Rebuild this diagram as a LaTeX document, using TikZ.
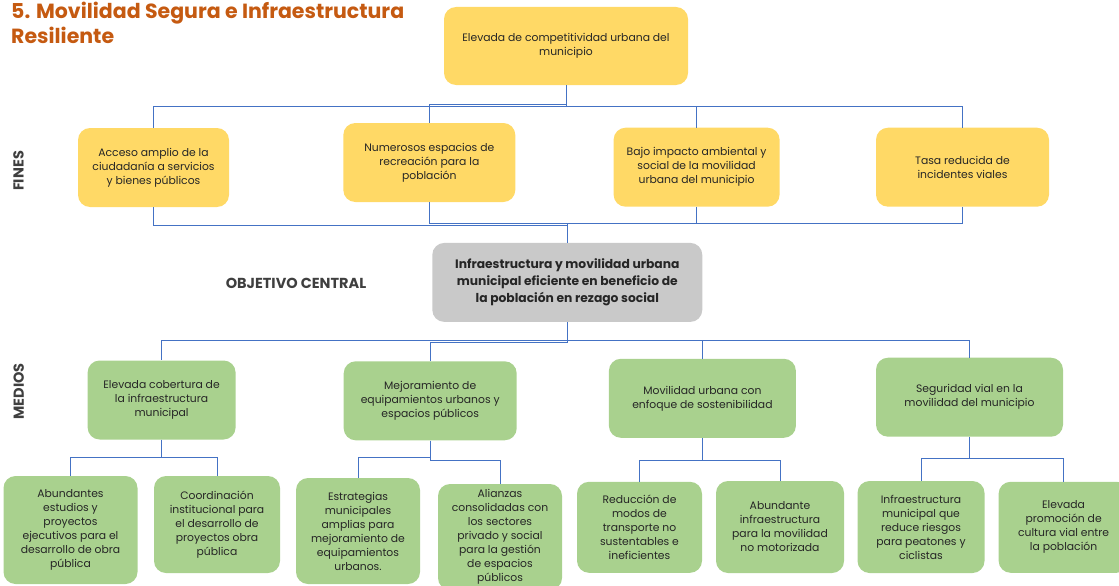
\documentclass[tikz,border=0pt]{standalone}
\usepackage{fontspec}
\setmainfont{Poppins}
\usepackage{tikz}
\usetikzlibrary{positioning,calc}
\definecolor{titulo}{HTML}{C55A11}
\definecolor{amarillo}{HTML}{FFD966}
\definecolor{verde}{HTML}{A9D18E}
\definecolor{gris}{HTML}{C9C9C9}
\definecolor{linea}{HTML}{4472C4}
\definecolor{texto}{HTML}{262626}
\definecolor{etiqueta}{HTML}{3F3F3F}

\begin{document}
\begin{tikzpicture}[x=1pt,y=-1pt,
    caja/.style={rounded corners=12pt, align=center, inner sep=0pt, text=texto,
                 font=\fontsize{10.8}{14}\selectfont},
    fin/.style={caja, fill=amarillo},
    medio/.style={caja, fill=verde},
    objetivo/.style={caja, fill=gris, font=\bfseries\fontsize{12.3}{17}\selectfont},
    rotulo/.style={text=etiqueta, inner sep=0pt, font=\bfseries\fontsize{14.5}{16}\selectfont},
    conector/.style={draw=linea, line width=1pt}]
        \useasboundingbox (0,0) rectangle (1119,586);

        % Title
        \node[anchor=base west, text=titulo, inner sep=0pt, font=\bfseries\fontsize{20.5}{25}\selectfont] (tit1) at (11,19) {5. Movilidad Segura e Infraestructura};
        \node[anchor=base west, text=titulo, inner sep=0pt, font=\bfseries\fontsize{20.5}{25}\selectfont] (tit2) at (11,44) {Resiliente};

        % Side labels
        \node[rotulo, rotate=90] (fines) at (18.4,171) {FINES};
        \node[rotulo, rotate=90] (medios) at (18.7,391.5) {MEDIOS};
        \node[rotulo] (objetivo) at (296,283) {OBJETIVO CENTRAL};

        % Fin superior
        \node[fin, minimum width=244pt, minimum height=78pt] (sup) at (566,46) {Elevada de competitividad urbana del\\municipio};

        % Fines
        \node[fin, minimum width=151pt, minimum height=79pt] (f1) at (153.5,167.5) {Acceso amplio de la\\ciudadanía a servicios\\y bienes públicos};
        \node[fin, minimum width=172pt, minimum height=79pt] (f2) at (429.3,162.5) {Numerosos espacios de\\recreación para la\\población};
        \node[fin, minimum width=166pt, minimum height=79pt] (f3) at (696.6,167.2) {Bajo impacto ambiental y\\social de la movilidad\\urbana del municipio};
        \node[fin, minimum width=173pt, minimum height=79pt] (f4) at (962.5,167.2) {Tasa reducida de\\incidentes viales};

        % Objetivo central
        \node[objetivo, minimum width=270pt, minimum height=79pt] (central) at (567.3,282.4) {Infraestructura y movilidad urbana\\municipal eficiente en beneficio de\\la población en rezago social};

        % Medios
        \node[medio, minimum width=148pt, minimum height=79pt] (m1) at (161.6,400) {Elevada cobertura de\\la infraestructura\\municipal};
        \node[medio, minimum width=173pt, minimum height=79pt] (m2) at (430.2,400.8) {Mejoramiento de\\equipamientos urbanos y\\espacios públicos};
        \node[medio, minimum width=187pt, minimum height=79pt] (m3) at (702.4,398.3) {Movilidad urbana con\\enfoque de sostenibilidad};
        \node[medio, minimum width=187pt, minimum height=79pt] (m4) at (969.5,397.2) {Seguridad vial en la\\movilidad del municipio};

        % Acciones
        \node[medio, minimum width=134pt, minimum height=108pt] (b1) at (70.5,530) {Abundantes\\estudios y\\proyectos\\ejecutivos para el\\desarrollo de obra\\pública};
        \node[medio, minimum width=126pt, minimum height=97pt] (b2) at (217,524.5) {Coordinación\\institucional para\\el desarrollo de\\proyectos obra\\pública};
        \node[medio, minimum width=124pt, minimum height=106pt] (b3) at (358,531) {Estrategias\\municipales\\amplias para\\mejoramiento de\\equipamientos\\urbanos.};
        \node[medio, minimum width=124pt, minimum height=106pt] (b4) at (500,537) {Alianzas\\consolidadas con\\los sectores\\privado y social\\para la gestión\\de espacios\\públicos};
        \node[medio, minimum width=125pt, minimum height=91pt] (b5) at (639.5,527.3) {Reducción de\\modos de\\transporte no\\sustentables e\\ineficientes};
        \node[medio, minimum width=128pt, minimum height=92pt] (b6) at (780,527) {Abundante\\infraestructura\\para la movilidad\\no motorizada};
        \node[medio, minimum width=127pt, minimum height=92pt] (b7) at (921,527) {Infraestructura\\municipal que\\reduce riesgos\\para peatones y\\ciclistas};
        \node[medio, minimum width=130pt, minimum height=91pt] (b8) at (1063.6,527.3) {Elevada\\promoción de\\cultura vial entre\\la población};

        % Connectors: fin superior -> fines
        \draw[conector] (sup.south) -- ++(0,21) -| (f1.north);
        \draw[conector] (sup.south) -- ++(0,19) -| (f2.north);
        \draw[conector] (sup.south) -- ++(0,21) -| (f3.north);
        \draw[conector] (sup.south) -- ++(0,21) -| (f4.north);

        % Connectors: fines -> objetivo
        \draw[conector] (f1.south) -- ++(0,18) -| (central.north);
        \draw[conector] (f2.south) -- ++(0,21) -| (central.north);
        \draw[conector] (f3.south) -- ++(0,17) -| (central.north);
        \draw[conector] (f4.south) -- ++(0,17) -| (central.north);

        % Connectors: objetivo -> medios
        \draw[conector] (central.south) -- ++(0,18) -| (m1.north);
        \draw[conector] (central.south) -- ++(0,20) -| (m2.north);
        \draw[conector] (central.south) -- ++(0,18) -| (m3.north);
        \draw[conector] (central.south) -- ++(0,18) -| (m4.north);

        % Connectors: medios -> acciones
        \draw[conector] (m1.south) -- ++(0,18) -| (b1.north);
        \draw[conector] (m1.south) -- ++(0,18) -| (b2.north);
        \draw[conector] (m2.south) -- ++(0,17) -| (b3.north);
        \draw[conector] (m2.south) -- ++(0,20) -| (b4.north);
        \draw[conector] (m3.south) -- ++(0,22) -| (b5.north);
        \draw[conector] (m3.south) -- ++(0,22) -| (b6.north);
        \draw[conector] (m4.south) -- ++(0,22) -| (b7.north);
        \draw[conector] (m4.south) -- ++(0,22) -| (b8.north);
\end{tikzpicture}
\end{document}
